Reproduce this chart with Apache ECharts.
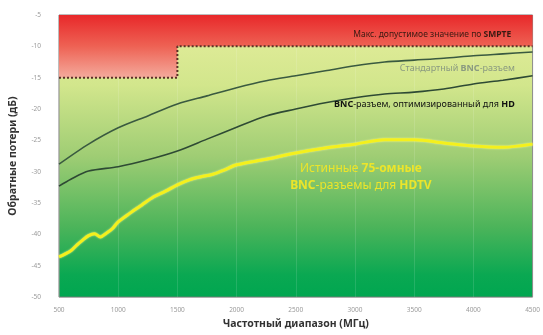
<!DOCTYPE html>
<html><head><meta charset="utf-8">
<script src="https://cdn.jsdelivr.net/npm/echarts@6/dist/echarts.min.js"></script>
<style>html,body{margin:0;padding:0;background:#fff}#c{width:543px;height:335px}</style>
</head><body><div id="c"></div>
<script>
const freqStd = [500,750,1000,1250,1500,1750,2000,2250,2500,2750,3000,3250,3500,3750,4000,4250,4500];
const stdBNC  = [-28.8,-25.6,-23.0,-21.1,-19.2,-17.9,-16.6,-15.5,-14.7,-13.9,-13.1,-12.5,-12.2,-11.9,-11.5,-11.2,-10.9];
const freqHD  = [500,600,750,1000,1250,1500,1750,2000,2250,2500,2750,3000,3250,3500,3750,4000,4250,4500];
const hdBNC   = [-32.3,-31.2,-29.9,-29.2,-28.1,-26.7,-24.8,-22.9,-21.1,-20.0,-19.0,-18.2,-17.6,-17.3,-16.8,-16.0,-15.4,-14.7];
const freqTrue = [500,600,650,700,750,800,850,900,950,1000,1100,1200,1300,1400,1500,1600,1700,1800,1900,2000,2250,2500,2750,3000,3250,3500,3750,4000,4250,4500];
const trueBNC  = [-43.6,-42.6,-41.7,-40.9,-40.2,-39.9,-40.4,-39.8,-39.1,-38.0,-36.6,-35.3,-34.0,-33.1,-32.1,-31.3,-30.8,-30.4,-29.7,-28.9,-28.0,-27.0,-26.2,-25.6,-24.9,-24.9,-25.4,-25.9,-26.1,-25.6];
const limitFreq = [500,1500,1500,4500];
const limitVal  = [-15,-15,-10,-10];
const xTicks = {min:500, max:4500, step:500};
const yTicks = {min:-50, max:-5, step:5};

const zip = (a,b)=>a.map((v,i)=>[v,b[i]]);
const chart = echarts.init(document.getElementById('c'));
const lbl = {color:'#9a9a9a', fontSize:6.5, fontFamily:'Noto Sans'};
chart.setOption({
  animation:false,
  grid:{left:58,right:6,top:15,bottom:36,show:true,borderColor:'#7a7a7a',borderWidth:1,
    backgroundColor:new echarts.graphic.LinearGradient(0,0,0,1,[
      {offset:0,color:'#e6ee9e'},{offset:0.25,color:'#d2e68c'},{offset:0.5,color:'#9fcd74'},
      {offset:0.75,color:'#4cb45a'},{offset:0.92,color:'#0aa852'},{offset:1,color:'#00a650'}])},
  xAxis:{type:'value',min:xTicks.min,max:xTicks.max,interval:xTicks.step,
    axisLine:{show:false},axisTick:{show:false},
    splitLine:{show:true,lineStyle:{color:'rgba(255,255,255,0.12)',width:1}},
    axisLabel:Object.assign({margin:10,formatter:v=>String(v)},lbl),
    name:'Частотный диапазон (МГц)',nameLocation:'middle',nameGap:21,
    nameTextStyle:{fontSize:10.5,fontWeight:'bold',color:'#333',fontFamily:'Noto Sans'}},
  yAxis:{type:'value',min:yTicks.min,max:yTicks.max,interval:yTicks.step,
    axisLine:{show:false},axisTick:{show:false},splitLine:{show:false},
    axisLabel:Object.assign({margin:18},lbl),
    name:'Обратные потери (дБ)',nameLocation:'middle',nameGap:40,
    nameTextStyle:{fontSize:10.5,fontWeight:'bold',color:'#333',fontFamily:'Noto Sans'}},
  series:[
    {type:'line',data:zip(limitFreq,limitVal),symbol:'none',z:2,
     lineStyle:{type:'dotted',color:'#5a3026',width:2},
     areaStyle:{origin:'end',opacity:1,color:new echarts.graphic.LinearGradient(0,0,0,1,[
       {offset:0,color:'#e8282a'},{offset:0.5,color:'#ee6254'},{offset:1,color:'#f4aa9c'}])},
     markPoint:{symbol:'circle',symbolSize:0,silent:true,data:[
       {coord:[4320,-8.2],label:{show:true,position:'left',distance:0,fontFamily:'Noto Sans',
        formatter:'{a|Макс. допустимое значение по }{b|SMPTE}',
        rich:{a:{fontSize:8.5,color:'#3a1a12'},b:{fontSize:8.5,color:'#3a1a12',fontWeight:'bold'}}}}]}},
    {type:'line',data:zip(freqStd,stdBNC),symbol:'none',smooth:0.3,z:3,
     lineStyle:{color:'#3a5a40',width:1.6},
     markPoint:{symbol:'circle',symbolSize:0,silent:true,data:[
       {coord:[4350,-13.5],label:{show:true,position:'left',distance:0,fontFamily:'Noto Sans',
        formatter:'{a|Стандартный }{b|BNC}{a|-разъем}',
        rich:{a:{fontSize:9,color:'#8a9a80'},b:{fontSize:9,color:'#8a9a80',fontWeight:'bold'}}}}]}},
    {type:'line',data:zip(freqHD,hdBNC),symbol:'none',smooth:0.3,z:3,
     lineStyle:{color:'#2e4a34',width:1.6},
     markPoint:{symbol:'circle',symbolSize:0,silent:true,data:[
       {coord:[4350,-19.2],label:{show:true,position:'left',distance:0,fontFamily:'Noto Sans',
        formatter:'{b|BNC}{a|-разъем, оптимизированный для }{b|HD}',
        rich:{a:{fontSize:9,color:'#111'},b:{fontSize:9,color:'#111',fontWeight:'bold'}}}}]}},
    {type:'line',data:zip(freqTrue,trueBNC),symbol:'none',smooth:0.3,z:4,
     lineStyle:{color:'#f4f01c',width:3,shadowColor:'rgba(255,255,150,0.8)',shadowBlur:2},
     markPoint:{symbol:'circle',symbolSize:0,silent:true,data:[
       {coord:[3050,-30.9],label:{show:true,position:'inside',fontFamily:'Noto Sans',align:'center',lineHeight:17,
        formatter:'{a|Истинные }{b|75-омные}\n{b|BNC}{a|-разъемы для }{b|HDTV}',
        rich:{a:{fontSize:12,color:'#ece52a',lineHeight:17},b:{fontSize:12,color:'#ece52a',fontWeight:'bold',lineHeight:17}}}}]}}
  ]
});
</script></body></html>
